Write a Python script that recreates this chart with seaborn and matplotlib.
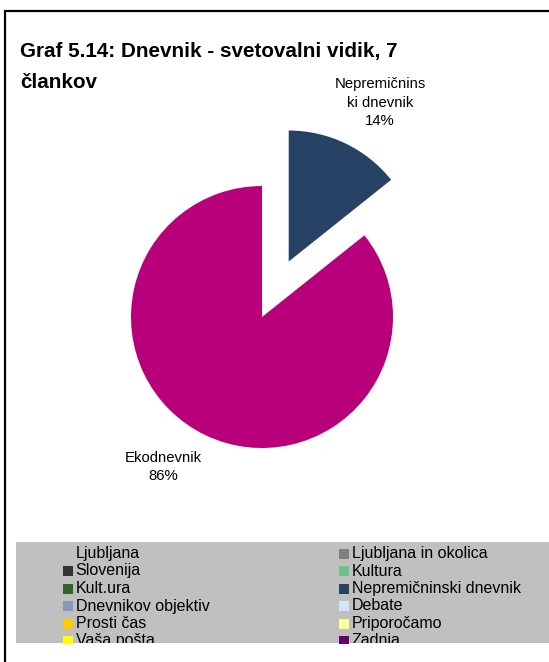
import textwrap
import matplotlib
matplotlib.use("Agg")
import matplotlib.pyplot as plt
from matplotlib.patches import Rectangle
import seaborn as sns

# pie data (7 articles)
slice_names = ["Nepremičninski dnevnik", "Ekodnevnik"]
slice_counts = [1, 6]
slice_colors = ["#264264", "#B8007A"]

# legend entries (as shown, two columns)
legend_left = ["Ljubljana", "Slovenija", "Kult.ura", "Dnevnikov objektiv", "Prosti čas", "Vaša pošta"]
legend_left_colors = [None, "#333333", "#336624", "#8797B5", "#FFCC00", "#FFFF00"]
legend_right = ["Ljubljana in okolica", "Kultura", "Nepremičninski dnevnik", "Debate", "Priporočamo", "Zadnja"]
legend_right_colors = ["#808080", "#70C08A", "#264264", "#D2E6F5", "#FFFF99", "#660066"]

title_lines = ["Graf 5.14: Dnevnik - svetovalni vidik, 7", "člankov"]

sns.set_style("white")
plt.rcParams["font.family"] = ["Liberation Sans", "DejaVu Sans"]
plt.rcParams["text.color"] = "black"

W, H = 549, 662
fig = plt.figure(figsize=(W / 100, H / 100), dpi=100, facecolor="white")

# outer frame (only left and top edges fall inside the image)
fig.add_artist(Rectangle((5 / W, -0.1), 1.2, 1.1 - 11 / H, transform=fig.transFigure,
                         fill=False, edgecolor="black", linewidth=1.6))

# title, one text per line
for i, line in enumerate(title_lines):
    fig.text(20 / W, 1 - (57 + 31 * i) / H, line, fontsize=14.9, fontweight="bold",
             ha="left", va="baseline", color="black")

# pie
ax = fig.add_axes([0, 83 / H, 524 / W, 524 / H])
wedges, _ = ax.pie(slice_counts, colors=slice_colors, startangle=90, counterclock=False,
                   explode=[0.47, 0], radius=1, wedgeprops=dict(linewidth=0))
ax.set_xlim(-2, 2)
ax.set_ylim(-2, 2)
ax.axis("off")

total = sum(slice_counts)
label_pos = [(0.90, 1.635), (-0.756, -1.145)]
for name, cnt, (lx, ly) in zip(slice_names, slice_counts, label_pos):
    txt = "\n".join(textwrap.wrap(name, 12)) + f"\n{cnt / total * 100:.0f}%"
    ax.text(lx, ly, txt, ha="center", va="center", fontsize=10.7, linespacing=1.4, color="black")

# legend box
lax = fig.add_axes([16 / W, (H - 643) / H, (W - 16) / W, (643 - 542) / H])
lax.set_facecolor("#C0C0C0")
lax.set_xlim(16, W)
lax.set_ylim(643, 542)
for s in lax.spines.values():
    s.set_visible(False)
lax.set_xticks([])
lax.set_yticks([])

for names, colors, mx, tx in [(legend_left, legend_left_colors, 67.5, 75.5),
                              (legend_right, legend_right_colors, 343.5, 352)]:
    for i, (nm, col) in enumerate(zip(names, colors)):
        yy = 553.5 + 17.5 * i
        if col is not None:
            lax.scatter([mx], [yy], marker="s", s=62, color=col, linewidths=0, clip_on=True)
        lax.text(tx, yy, nm, fontsize=11.5, ha="left", va="center", clip_on=True, color="black")

fig.savefig("out.png", dpi=100, facecolor="white")
